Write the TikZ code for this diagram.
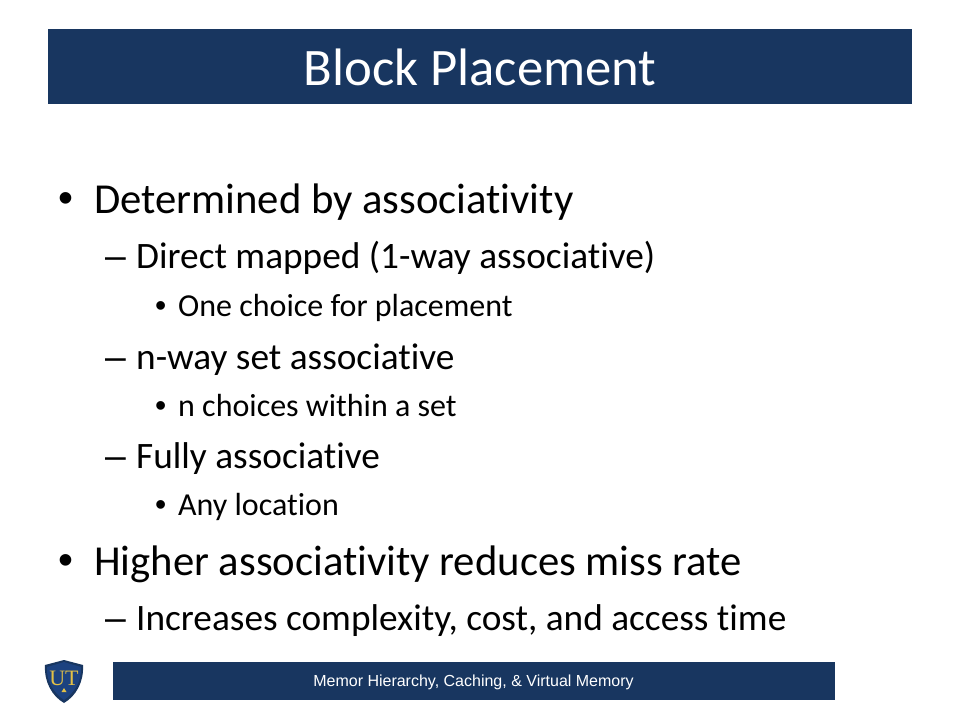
\documentclass[tikz,border=0pt]{standalone}
\usepackage{fontspec}
\setmainfont[Ligatures=NoCommon]{Carlito}
\newfontfamily\footfont{Liberation Sans}
\newfontfamily\logofont{Liberation Serif}
\definecolor{utblue}{RGB}{24,54,96}
\definecolor{utmid}{RGB}{28,66,128}
\definecolor{utgold}{RGB}{226,192,70}
\tikzset{
  lvla/.style={anchor=base west, inner sep=0pt, font=\fontsize{42.7}{43}\selectfont},
  lvlb/.style={anchor=base west, inner sep=0pt, font=\fontsize{37.3}{37}\selectfont},
  lvlc/.style={anchor=base west, inner sep=0pt, font=\fontsize{32}{32}\selectfont},
  marka/.style={lvla, font=\footfont\fontsize{42.7}{43}\selectfont},
  markb/.style={lvlb, font=\footfont\fontsize{37.3}{37}\selectfont},
  markc/.style={lvlc, font=\footfont\fontsize{32}{32}\selectfont},
}
\begin{document}
\begin{tikzpicture}[x=1pt,y=-1pt]
  \useasboundingbox (0,0) rectangle (960,720);
  \fill[white] (0,0) rectangle (960,720);

  % title bar
  \fill[utblue] (48,29) rectangle (912,104);
  \node[text=white, font=\fontsize{52.7}{53}\selectfont] (title) at (480,67) {Block Placement};

  % bullets
  \node[marka] (b1) at (58,212) {•};
  \node[lvla] (t1) at (94,213.5) {Determined by associativity};
  \node[markb] (b2) at (105,268) {–};
  \node[lvlb] (t2) at (136,268) {Direct mapped (1-way associative)};
  \node[markc] (b3) at (155,316) {•};
  \node[lvlc] (t3) at (178,316) {One choice for placement};
  \node[markb] (b4) at (105,369) {–};
  \node[lvlb] (t4) at (136,369) {n-way set associative};
  \node[markc] (b5) at (155,416) {•};
  \node[lvlc] (t5) at (178,416) {n choices within a set};
  \node[markb] (b6) at (105,468) {–};
  \node[lvlb] (t6) at (136,468) {Fully associative};
  \node[markc] (b7) at (155,515) {•};
  \node[lvlc] (t7) at (178,515) {Any location};
  \node[marka] (b8) at (58,574) {•};
  \node[lvla] (t8) at (94,575.5) {Higher associativity reduces miss rate};
  \node[markb] (b9) at (105,630) {–};
  \node[lvlb] (t9) at (136,630) {Increases complexity, cost, and access time};

  % footer
  \fill[utblue] (113,662) rectangle (835,700);
  \node[text=white, font=\footfont\fontsize{16}{16}\selectfont] (foot) at (473.5,682) {Memor Hierarchy, Caching, \& Virtual Memory};

  % shield
  \fill[utblue] (45,665) -- (64,660) -- (83,665) .. controls (84,682) and (76,696) .. (64,703) .. controls (52,696) and (44,682) .. (45,665) -- cycle;
  \fill[utmid] (47,667) -- (64,662) -- (81,667) .. controls (82,681) and (74,693) .. (64,700) .. controls (54,693) and (46,681) .. (47,667) -- cycle;
  \node[text=utgold, inner sep=0pt, font=\logofont\fontsize{22}{22}\selectfont] (ut) at (64,678) {UT};
  \fill[utgold] (64,688) -- (66.5,692) -- (61.5,692) -- cycle;
\end{tikzpicture}
\end{document}
